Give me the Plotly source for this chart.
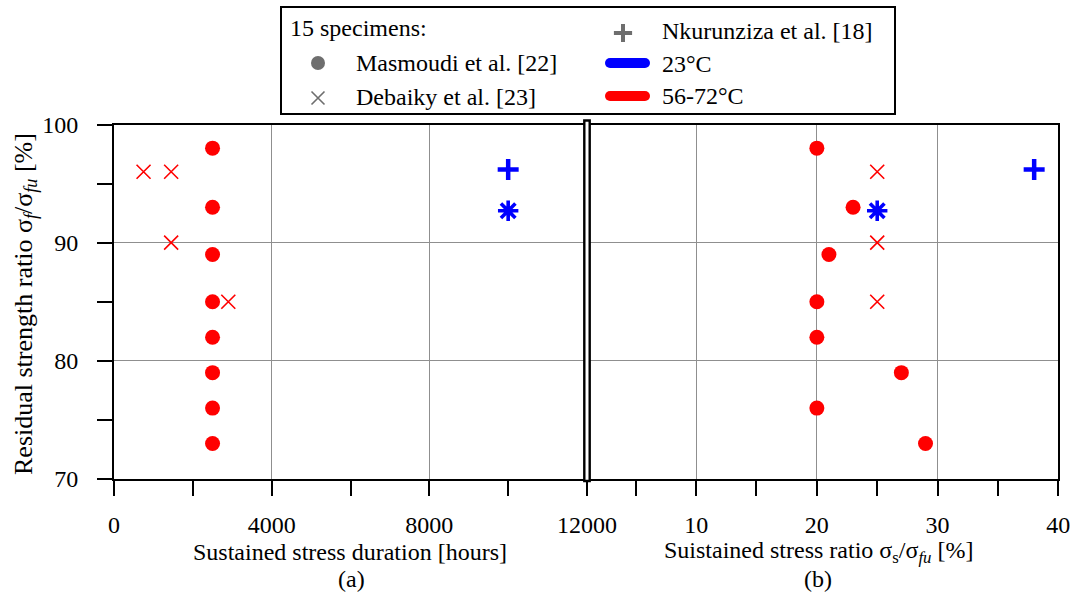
import plotly.graph_objects as go

W, H = 1076, 598
FONT = "Liberation Serif"
RED = "#ff0000"
BLUE = "#0000ff"
GRAY = "#6e6e6e"

# ---------------- data ----------------
residual_masmoudi = [98, 93, 89, 85, 82, 79, 76, 73]
hours_masmoudi = [2500, 2500, 2500, 2500, 2500, 2500, 2500, 2500]
ratio_masmoudi = [20, 23, 21, 20, 20, 27, 20, 29]

hours_debaiky = [750, 1450, 1450, 2900]
residual_debaiky_a = [96, 96, 90, 85]
ratio_debaiky = [25, 25, 25]
residual_debaiky_b = [96, 90, 85]

hours_nk_plus = [10000]
ratio_nk_plus = [38]
residual_nk_plus = [96.2]
hours_nk_star = [10000]
ratio_nk_star = [25]
residual_nk_star = [92.7]

x_ticks_a = [0, 4000, 8000, 12000]
x_labels_a = ["0", "4000", "8000", "12000"]
x_ticks_b = [10, 20, 30, 40]
x_labels_b = ["10", "20", "30", "40"]
y_ticks = [70, 80, 90, 100]
y_labels = ["70", "80", "90", "100"]

# ---------------- figure ----------------
fig = go.Figure()

def px_x(p):
    return p / W

def px_y(p):
    return 1 - p / H

X0, XM, X1 = 114, 587, 1058.3
YT, YB = 124.5, 479

circle_m = dict(symbol="circle", size=15, color=RED)
x_m = dict(symbol="x-thin", size=14, color=RED, line=dict(color=RED, width=1.6))
plus_m = dict(symbol="cross-thin", size=15, color=BLUE, line=dict(color=BLUE, width=4.5))
star_m = dict(symbol="asterisk", size=17, color=BLUE, line=dict(color=BLUE, width=3.6))

# panel (a)
fig.add_trace(go.Scatter(x=hours_masmoudi, y=residual_masmoudi, mode="markers",
                         marker=circle_m, xaxis="x", yaxis="y", showlegend=False))
fig.add_trace(go.Scatter(x=hours_debaiky, y=residual_debaiky_a, mode="markers",
                         marker=x_m, xaxis="x", yaxis="y", showlegend=False))
fig.add_trace(go.Scatter(x=hours_nk_plus, y=residual_nk_plus, mode="markers",
                         marker=plus_m, xaxis="x", yaxis="y", showlegend=False))
fig.add_trace(go.Scatter(x=hours_nk_star, y=residual_nk_star, mode="markers",
                         marker=star_m, xaxis="x", yaxis="y", showlegend=False))
# panel (b)
fig.add_trace(go.Scatter(x=ratio_masmoudi, y=residual_masmoudi, mode="markers",
                         marker=circle_m, xaxis="x2", yaxis="y2", showlegend=False))
fig.add_trace(go.Scatter(x=ratio_debaiky, y=residual_debaiky_b, mode="markers",
                         marker=x_m, xaxis="x2", yaxis="y2", showlegend=False))
fig.add_trace(go.Scatter(x=ratio_nk_plus, y=residual_nk_plus, mode="markers",
                         marker=plus_m, xaxis="x2", yaxis="y2", showlegend=False))
fig.add_trace(go.Scatter(x=ratio_nk_star, y=residual_nk_star, mode="markers",
                         marker=star_m, xaxis="x2", yaxis="y2", showlegend=False))

# legend glyphs on a full-page pixel overlay
legend_sym_x = [318, 318, 623]
legend_sym_y = [63, 98, 33]
fig.add_trace(go.Scatter(x=legend_sym_x[:1], y=legend_sym_y[:1], mode="markers",
                         marker=dict(symbol="circle", size=14, color=GRAY),
                         xaxis="x3", yaxis="y3", showlegend=False))
fig.add_trace(go.Scatter(x=legend_sym_x[1:2], y=legend_sym_y[1:2], mode="markers",
                         marker=dict(symbol="x-thin", size=13, color=GRAY, line=dict(color=GRAY, width=1.6)),
                         xaxis="x3", yaxis="y3", showlegend=False))
fig.add_trace(go.Scatter(x=legend_sym_x[2:], y=legend_sym_y[2:], mode="markers",
                         marker=dict(symbol="cross-thin", size=13, color=GRAY, line=dict(color=GRAY, width=4)),
                         xaxis="x3", yaxis="y3", showlegend=False))

tickfont = dict(family=FONT, size=24, color="black")
grid = "#8f8f8f"

fig.update_layout(
    autosize=True,
    margin=dict(l=0, r=0, t=0, b=0, autoexpand=False),
    paper_bgcolor="white",
    plot_bgcolor="rgba(0,0,0,0)",
    font=dict(family=FONT, size=24, color="black"),
    xaxis=dict(domain=[px_x(X0), px_x(XM)], range=[0, 12000], anchor="y",
               tickmode="array", tickvals=x_ticks_a, ticktext=x_labels_a,
               ticks="outside", ticklen=15, tickwidth=2, tickcolor="black",
               minor=dict(dtick=2000, tick0=0, ticks="outside", ticklen=15, tickwidth=2,
                          tickcolor="black", showgrid=False),
               showgrid=True, gridcolor=grid, gridwidth=1,
               showline=True, linecolor="black", linewidth=2, mirror=True,
               zeroline=False, tickfont=tickfont, ticklabelstandoff=8),
    yaxis=dict(domain=[px_y(YB), px_y(YT)], range=[70, 100], anchor="x",
               tickmode="array", tickvals=y_ticks, ticktext=y_labels,
               ticks="outside", ticklen=15, tickwidth=2, tickcolor="black",
               minor=dict(dtick=5, tick0=0, ticks="outside", ticklen=15, tickwidth=2,
                          tickcolor="black", showgrid=False),
               showgrid=True, gridcolor=grid, gridwidth=1,
               showline=True, linecolor="black", linewidth=2,
               zeroline=False, tickfont=tickfont, ticklabelstandoff=14),
    xaxis2=dict(domain=[px_x(XM), px_x(X1)], range=[0.96, 40], anchor="y2",
                tickmode="array", tickvals=x_ticks_b, ticktext=x_labels_b,
                ticks="outside", ticklen=15, tickwidth=2, tickcolor="black",
                minor=dict(dtick=5, tick0=0, ticks="outside", ticklen=15, tickwidth=2,
                           tickcolor="black", showgrid=False),
                showgrid=True, gridcolor=grid, gridwidth=1,
                showline=True, linecolor="black", linewidth=2, mirror=True,
                zeroline=False, tickfont=tickfont, ticklabelstandoff=8),
    yaxis2=dict(domain=[px_y(YB), px_y(YT)], range=[70, 100], anchor="x2",
                tickmode="array", tickvals=y_ticks, showticklabels=False, ticks="",
                showgrid=True, gridcolor=grid, gridwidth=1,
                showline=True, linecolor="black", linewidth=2, mirror=True,
                zeroline=False),
    xaxis3=dict(domain=[0, 1], range=[0, W], visible=False, anchor="y3", fixedrange=True),
    yaxis3=dict(domain=[0, 1], range=[H, 0], visible=False, anchor="x3", fixedrange=True),
)

# divider between panels
fig.add_shape(type="rect", xref="x3", yref="y3", x0=584.3, x1=589.7, y0=120.5, y1=481,
              line=dict(color="black", width=2.4), fillcolor="white", layer="above")

# legend box
fig.add_shape(type="rect", xref="x3", yref="y3", x0=281, x1=895, y0=7, y1=114,
              line=dict(color="black", width=2), fillcolor="rgba(0,0,0,0)")
for yy, col in [(63, BLUE), (96, RED)]:
    fig.add_shape(type="rect", xref="x3", yref="y3", x0=610, x1=645, y0=yy - 5, y1=yy + 5,
                  line=dict(width=0), fillcolor=col)
    fig.add_shape(type="circle", xref="x3", yref="y3", x0=605, x1=615, y0=yy - 5, y1=yy + 5,
                  line=dict(width=0), fillcolor=col)
    fig.add_shape(type="circle", xref="x3", yref="y3", x0=640, x1=650, y0=yy - 5, y1=yy + 5,
                  line=dict(width=0), fillcolor=col)

def ann(text, x, y, xanchor="center", size=24, angle=0):
    fig.add_annotation(text=text, x=px_x(x), y=px_y(y), xref="paper", yref="paper",
                       xanchor=xanchor, yanchor="middle", showarrow=False,
                       textangle=angle, font=dict(family=FONT, size=size, color="black"))

ann("15 specimens:", 288, 28, "left")
ann("Masmoudi et al. [22]", 354, 63, "left")
ann("Debaiky et al. [23]", 354, 97, "left")
ann("Nkurunziza et al. [18]", 660, 31, "left")
ann("23°C", 660, 64, "left")
ann("56-72°C", 660, 96, "left")

ann("Sustained stress duration [hours]", 350, 552)
ann("Suistained stress ratio σ<sub>s</sub>/σ<sub><i>fu</i></sub> [%]", 818, 552)
ann("(a)", 351, 579)
ann("(b)", 818, 579)
ann("Residual strength ratio σ<sub><i>f</i></sub>/σ<sub><i>fu</i></sub> [%]", 25, 304, size=26, angle=-90)

fig.write_html("out.html", default_width="1076px", default_height="598px")
